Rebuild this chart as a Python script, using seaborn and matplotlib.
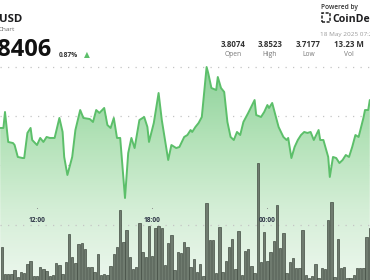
import numpy as np
import pandas as pd
import matplotlib
matplotlib.use("Agg")
import matplotlib.pyplot as plt
import matplotlib.transforms as mtransforms
from matplotlib.colors import LinearSegmentedColormap
from matplotlib.patches import Polygon, Rectangle
import seaborn as sns

# ---------------- data ----------------
# price line: minutes after 10:00 and price
price_minutes = [5, 15, 20, 30, 45, 50, 60, 75, 80, 90, 100, 105, 120, 130, 140, 150,
                 160, 175, 190, 200, 205, 215, 230, 240, 255, 265, 285, 295, 305, 315,
                 330, 340, 350, 360, 370, 380, 395, 405, 415, 425, 440, 455, 465, 470,
                 485, 500, 510, 530, 540, 555, 565, 580, 590, 600, 605, 615, 625, 635,
                 650, 655, 665, 680, 685, 695, 705, 715, 725, 735, 745, 755, 765, 780,
                 800, 805, 820, 830, 840, 845, 855, 865, 875, 890, 900, 905, 915, 925,
                 935, 945, 955, 965, 975, 985, 1000, 1005, 1015, 1030, 1035, 1045, 1055,
                 1065, 1075, 1085, 1095, 1105, 1115, 1125, 1140, 1145, 1155, 1160]
price_values = [3.7878, 3.7878, 3.8041, 3.7735, 3.7724, 3.7704, 3.7582, 3.7571, 3.7571,
                3.7827, 3.7878, 3.7755, 3.7704, 3.7776, 3.7735, 3.7786, 3.7776, 3.7776,
                3.7980, 3.7837, 3.7582, 3.7398, 3.7582, 3.7857, 3.8061, 3.7980, 3.7969,
                3.7939, 3.8061, 3.8031, 3.8082, 3.7908, 3.7878, 3.7980, 3.7776, 3.7776,
                3.7163, 3.7622, 3.7776, 3.7673, 3.7959, 3.7990, 3.7888, 3.7735, 3.7929,
                3.8235, 3.7959, 3.7551, 3.7704, 3.7673, 3.7684, 3.7786, 3.7806, 3.7857,
                3.7837, 3.7888, 3.7929, 3.7990, 3.8500, 3.8439, 3.8286, 3.8265, 3.8398,
                3.8286, 3.8245, 3.7939, 3.7786, 3.7755, 3.7837, 3.7806, 3.7939, 3.8031,
                3.8163, 3.8010, 3.7990, 3.8041, 3.8112, 3.8082, 3.8133, 3.8010, 3.7888,
                3.7786, 3.7755, 3.7776, 3.7571, 3.7684, 3.7755, 3.7806, 3.7837, 3.7827,
                3.7837, 3.7755, 3.7857, 3.7755, 3.7755, 3.7582, 3.7378, 3.7582, 3.7571,
                3.7520, 3.7551, 3.7602, 3.7582, 3.7684, 3.7806, 3.7786, 3.7980, 3.8061,
                3.8061, 3.8163]

# volume bars (thousands), one per 10 minutes starting 10:10
volumes_k = [60, 11, 11, 11, 18, 5, 15, 13, 29, 35, 7, 7, 24, 20, 16, 7, 9, 31, 27, 11,
             33, 84, 42, 31, 65, 67, 56, 24, 24, 15, 47, 9, 11, 9, 25, 47, 60, 127, 69, 91,
             42, 20, 24, 104, 51, 42, 98, 44, 95, 98, 95, 27, 67, 82, 18, 51, 49, 69,
             60, 24, 38, 15, 29, 7, 140, 73, 73, 13, 96, 15, 35, 60, 75, 20, 89, 9, 53, 56,
             25, 13, 213, 33, 87, 35, 51, 71, 136, 58, 85, 13, 33, 40, 22, 22, 91, 9, 4, 7,
             29, 4, 22, 20, 109, 142, 5, 75, 22, 24, 4, 4, 9, 22, 22, 22, 78, 95]
volume_minutes = list(range(10, 10 + 10 * len(volumes_k), 10))

tick_minutes = [120, 480, 840]
tick_labels = ["12:00", "18:00", "00:00"]
price_grid = [3.75, 3.80, 3.85]
volume_grid = [100]

stat_values = ["3.8074", "3.8523", "3.7177", "13.23 M"]
stat_names = ["Open", "High", "Low", "Vol"]

# ---------------- style ----------------
sns.set_theme(style="white")
plt.rcParams['font.family'] = ['Open Sans', 'DejaVu Sans']

W, H = 370, 280
fig = plt.figure(figsize=(W / 100, H / 100), dpi=100)
fig.patch.set_facecolor("white")

XMIN, XMAX = 4.375, 1160.625
PMIN, PMAX = 3.63265, 3.91837
VMAX = 509.09

ax = fig.add_axes([0, 0, 1, 1], zorder=1)
ax_vol = fig.add_axes([0, 0, 1, 1], zorder=2)
ax_line = fig.add_axes([0, 0, 1, 1], zorder=3)
for a in (ax_vol, ax_line):
    a.patch.set_visible(False)

df_p = pd.DataFrame({"minute": price_minutes, "price": price_values})
df_v = pd.DataFrame({"minute": volume_minutes, "volume": volumes_k})

# gradient fill under price line
cmap = LinearSegmentedColormap.from_list(
    "g", ["#ecf7ed", "#d4eed6", "#b3e2b8", "#8ed29a"])
grad = np.linspace(0, 1, 256).reshape(-1, 1)
im = ax.imshow(grad, aspect="auto", cmap=cmap, origin="lower",
               extent=[XMIN, XMAX, PMIN, max(price_values)], zorder=1)
verts = np.column_stack([
    [df_p.minute.iloc[0]] + list(df_p.minute) + [df_p.minute.iloc[-1]],
    [PMIN] + list(df_p.price) + [PMIN]])
poly = Polygon(verts, closed=True, facecolor="none", edgecolor="none")
ax.add_patch(poly)
im.set_clip_path(poly)
ax.set_xlim(XMIN, XMAX)
ax.set_ylim(PMIN, PMAX)
ax.set_yticks(price_grid)
ax.grid(axis="y", linestyle=(0, (1, 5)), color="#c4c4c4", linewidth=0.9)
ax.grid(axis="x", visible=False)
ax.tick_params(left=False, bottom=False, labelleft=False, labelbottom=False)
for s in ax.spines.values():
    s.set_visible(False)

# volume bars
sns.barplot(data=df_v, x="minute", y="volume", native_scale=True, width=0.7,
            color="#6f7b6f", saturation=1, edgecolor="#434d43", linewidth=0.5,
            ax=ax_vol)
ax_vol.set_xlim(XMIN, XMAX)
ax_vol.set_ylim(0, VMAX)
ax_vol.set_yticks(volume_grid)
ax_vol.set_axisbelow(True)
ax_vol.grid(axis="y", linestyle=(0, (1, 5)), color="#c4c4c4", linewidth=0.9)
ax_vol.grid(axis="x", visible=False)
ax_vol.set_xlabel("")
ax_vol.set_ylabel("")
ax_vol.tick_params(left=False, bottom=False, labelleft=False, labelbottom=False)
for s in ax_vol.spines.values():
    s.set_visible(False)

# price line
sns.lineplot(data=df_p, x="minute", y="price", color="#5cbf6a", linewidth=1.4,
             ax=ax_line)
ax_line.set_xlim(XMIN, XMAX)
ax_line.set_ylim(PMIN, PMAX)
ax_line.axis("off")

# time labels inside the plot
trans = mtransforms.blended_transform_factory(ax_line.transData, ax_line.transAxes)
for t, lab in zip(tick_minutes, tick_labels):
    ax_line.text(t, 1 - 222 / H, lab, transform=trans, ha="center", va="baseline",
                 fontsize=4.8, fontweight="bold", color="#2d3446")
ax_line.scatter(tick_minutes, [1 - 208 / H] * len(tick_minutes), transform=trans,
                s=0.6, color="#8a8a8a", linewidths=0)


def px(x, y):
    return x / W, 1 - y / H


# header, left
fig.text(*px(-0.5, 22), "USD", ha="left", va="baseline", fontsize=8.2,
         fontweight="bold", color="#1d1d1f")
fig.text(*px(15, 31), "Chart", ha="right", va="baseline", fontsize=4.6,
         color="#666666")
fig.text(*px(51.5, 56), "3.8406", ha="right", va="baseline", fontsize=17,
         fontweight="bold", color="#111111")
fig.text(*px(59, 57), "0.87%", ha="left", va="baseline", fontsize=4.8,
         fontweight="bold", color="#333333")
fig.text(*px(86.5, 57.5), "▲", ha="center", va="baseline", fontsize=5.5,
         color="#5cbf6a", family="DejaVu Sans")

# header, right
fig.text(*px(321, 9), "Powered by", ha="left", va="baseline", fontsize=4.7,
         fontweight="semibold", color="#333333")
fig.patches.append(Rectangle(px(321.5, 22), 8 / W, 9 / H, transform=fig.transFigure,
                             fill=False, edgecolor="#222222", linewidth=1.1,
                             linestyle=(0, (2, 1))))
fig.text(*px(332, 22), "CoinDesk", ha="left", va="baseline", fontsize=7.6,
         fontweight="bold", color="#1d1d1f")
fig.text(*px(320, 36), "18 May 2025 07:20", ha="left", va="baseline", fontsize=4.6,
         color="#9a9a9a")

stat_x = [233.5, 270, 308.5, 348.5]
for x, v, n in zip(stat_x, stat_values, stat_names):
    fig.text(*px(x, 47), v, ha="center", va="baseline", fontsize=5.7,
             fontweight="bold", color="#333333")
    fig.text(*px(x, 55.5), n, ha="center", va="baseline", fontsize=4.8,
             color="#777777")

fig.savefig("out.png", dpi=100)
